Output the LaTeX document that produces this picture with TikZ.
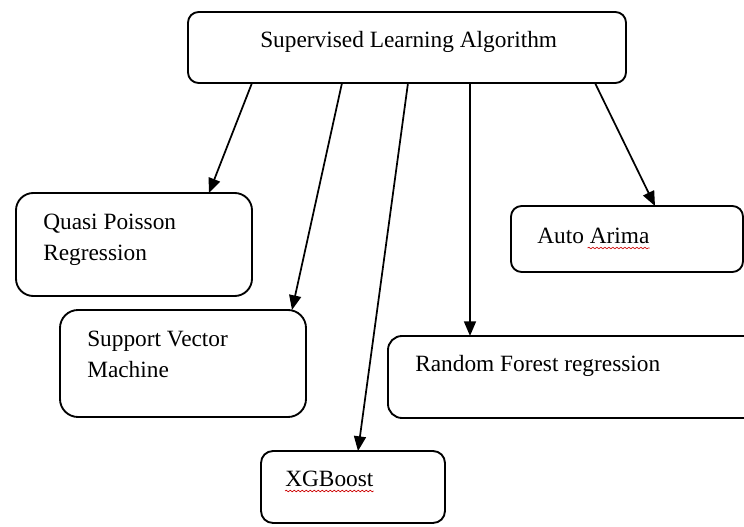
\documentclass[tikz,border=0pt]{standalone}
\usepackage{fontspec}
\setmainfont{Liberation Serif}
\usetikzlibrary{arrows.meta,calc,decorations.pathmorphing}
\begin{document}
\begin{tikzpicture}[x=0.75pt,y=-0.75pt,
 box/.style={draw, line width=1.4pt, outer sep=0pt, inner sep=0pt, anchor=north west},
 lbl/.style={inner sep=0pt, anchor=base west, align=left, font=\fontsize{17.5}{23.25}\selectfont},
 arr/.style={line width=1.3pt, -{Triangle[length=11pt,width=9pt]}},
 squig/.style={red!80!black, line width=0.5pt, decorate, decoration={snake, amplitude=0.6pt, segment length=3pt}}]
\useasboundingbox (0,0) rectangle (744,527);
\clip (0,0) rectangle (744,527);
% boxes
\node[box, minimum width=438*0.75pt, minimum height=71*0.75pt, rounded corners=8pt] (top) at (188,12) {};
\node[box, minimum width=236*0.75pt, minimum height=103*0.75pt, rounded corners=13pt] (qp) at (16,193) {};
\node[box, minimum width=246*0.75pt, minimum height=107*0.75pt, rounded corners=13.5pt] (svm) at (60,310) {};
\node[box, minimum width=184*0.75pt, minimum height=72*0.75pt, rounded corners=9pt] (xgb) at (261,451) {};
\node[box, minimum width=232*0.75pt, minimum height=66*0.75pt, rounded corners=8pt] (arima) at (511,206) {};
\node[box, minimum width=372*0.75pt, minimum height=82*0.75pt, rounded corners=10.5pt] (rf) at (388,336) {};
% labels
\node[lbl] (topt) at (260,48) {Supervised Learning Algorithm};
\node[lbl] (qpt) at (43,261) {Quasi Poisson\\Regression};
\node[lbl] (svmt) at (87,378) {Support Vector\\Machine};
\node[lbl] (xgbt) at (285,487) {XGBoost};
\node[lbl] (arimat) at (537,244) {Auto Arima};
\node[lbl] (rft) at (415,372) {Random Forest regression};
% connectors
\draw[arr] ($(top.south west)+(64,0)$) -- ($(qp.north west)+(193,0)$);
\draw[arr] ($(top.south west)+(154,0)$) -- ($(svm.north west)+(232,0)$);
\draw[arr] ($(top.south west)+(220,0)$) -- ($(xgb.north west)+(97,0)$);
\draw[arr] ($(top.south west)+(282,0)$) -- ($(rf.north west)+(82,0)$);
\draw[arr] ($(top.south west)+(407,0)$) -- ($(arima.north west)+(144,0)$);
% spell-check underlines
\draw[squig] ($(xgbt.base west)+(0,4)$) -- ($(xgbt.base east)+(0,4)$);
\draw[squig] ($(arimat.base east)+(-62,4)$) -- ($(arimat.base east)+(0,4)$);
\end{tikzpicture}
\end{document}
